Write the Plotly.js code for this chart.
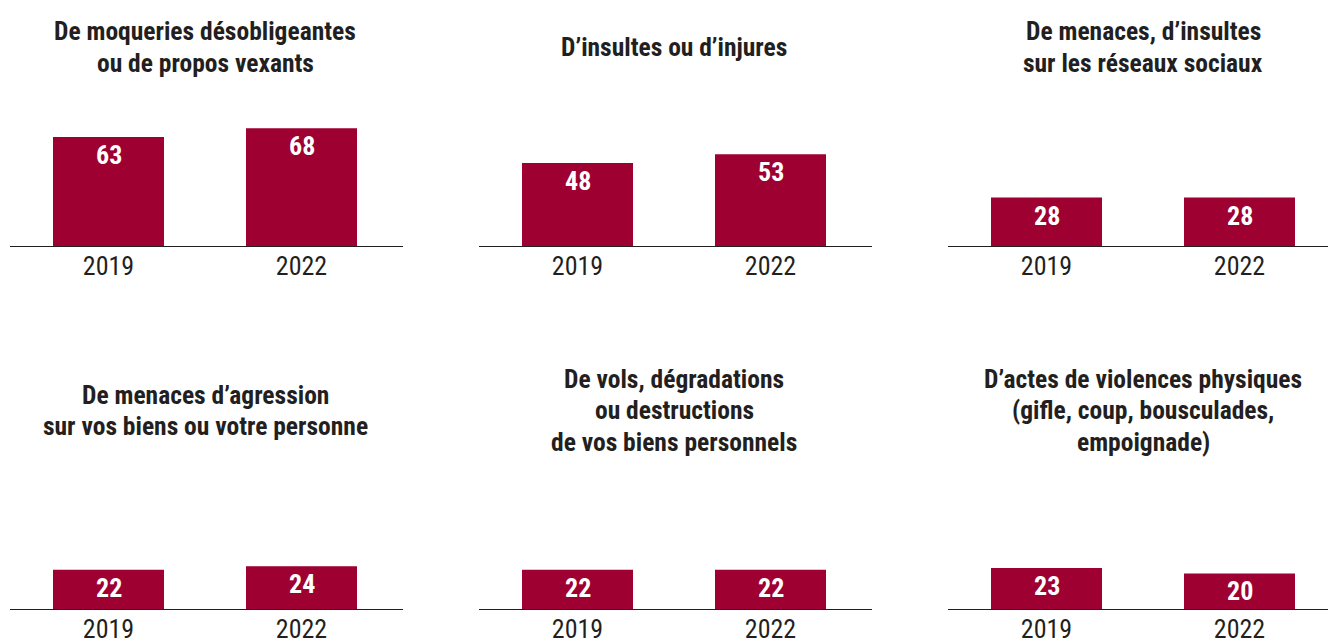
<!DOCTYPE html>
<html>
<head>
<meta charset="utf-8">
<script src="https://cdn.plot.ly/plotly-3.0.1.min.js"></script>
<style>html,body{margin:0;padding:0;background:#fff;}#chart{width:1328px;height:639px;}</style>
</head>
<body>
<div id="chart"></div>
<script>
const years = ['2019', '2022'];
const titles = [
  ['De moqueries désobligeantes', 'ou de propos vexants'],
  ['D’insultes ou d’injures'],
  ['De menaces, d’insultes', 'sur les réseaux sociaux'],
  ['De menaces d’agression', 'sur vos biens ou votre personne'],
  ['De vols, dégradations', 'ou destructions', 'de vos biens personnels'],
  ['D’actes de violences physiques', '(gifle, coup, bousculades,', 'empoignade)']
];
const values2019 = [63, 48, 28, 22, 22, 23];
const values2022 = [68, 53, 28, 24, 22, 20];

const W = 1328, H = 639;
const FONT = '"Liberation Sans Narrow", "Arial Narrow", "Roboto Condensed", "DejaVu Sans Condensed", "Liberation Sans", sans-serif';
const DARK = '#231f20';
const BAR = '#9e0032';

const colLeft = [10, 479, 948];
const colRight = [403, 872, 1341];
const center0off = 98.5;
const catStep = 193;
const rowBase = [246, 609];
const pxPerUnit = [1.73, 1.78];
const titleCenter = [47, 410.5];
const lineGap = 31.5;

const data = [];
const layout = {
  width: W, height: H,
  margin: {l: 0, r: 0, t: 0, b: 0},
  paper_bgcolor: '#fff', plot_bgcolor: 'rgba(0,0,0,0)',
  showlegend: false,
  font: {family: FONT, color: DARK},
  annotations: []
};

for (let i = 0; i < 6; i++) {
  const row = Math.floor(i / 3), col = i % 3;
  const n = i + 1;
  const xa = 'x' + (n === 1 ? '' : n), ya = 'y' + (n === 1 ? '' : n);
  const xk = 'xaxis' + (n === 1 ? '' : n), yk = 'yaxis' + (n === 1 ? '' : n);
  const vals = [values2019[i], values2022[i]];
  data.push({
    type: 'bar', x: years, y: vals, xaxis: xa, yaxis: ya,
    marker: {color: BAR, line: {width: 0}},
    width: 111 / catStep, hoverinfo: 'skip'
  });
  const left = colLeft[col];
  const right = Math.min(colRight[col], W);
  const c0 = left + center0off;
  const r0 = -(c0 - left) / catStep;
  const r1 = (right - c0) / catStep;
  layout[xk] = {
    domain: [left / W, right / W], range: [r0, r1], type: 'category',
    anchor: ya, showgrid: false, zeroline: false, showline: true,
    linecolor: DARK, linewidth: 1.3, ticks: '', fixedrange: true,
    tickfont: {family: FONT, size: 26, color: DARK}, ticklabelstandoff: -4
  };
  const base = rowBase[row];
  const hpx = 100 * pxPerUnit[row];
  layout[yk] = {
    domain: [1 - base / H, 1 - (base - hpx) / H], range: [0, 100],
    anchor: xa, showgrid: false, zeroline: false, showline: false,
    showticklabels: false, ticks: '', fixedrange: true
  };
  vals.forEach((v, k) => {
    layout.annotations.push({
      xref: xa, yref: ya, x: k, y: v, text: String(v),
      showarrow: false, yanchor: 'middle', xanchor: 'center', yshift: -18,
      font: {family: FONT, size: 26, color: '#ffffff', weight: 'bold'}
    });
  });
  const lines = titles[i];
  const cx = c0 + catStep / 2;
  lines.forEach((t, k) => {
    const py = titleCenter[row] + (k - (lines.length - 1) / 2) * lineGap;
    layout.annotations.push({
      xref: 'paper', yref: 'paper', x: cx / W, y: 1 - py / H,
      xanchor: 'center', yanchor: 'middle', text: t, showarrow: false,
      font: {family: FONT, size: 25.5, color: DARK, weight: 'bold'}
    });
  });
}

Plotly.newPlot('chart', data, layout, {displayModeBar: false, staticPlot: true});
</script>
</body>
</html>
